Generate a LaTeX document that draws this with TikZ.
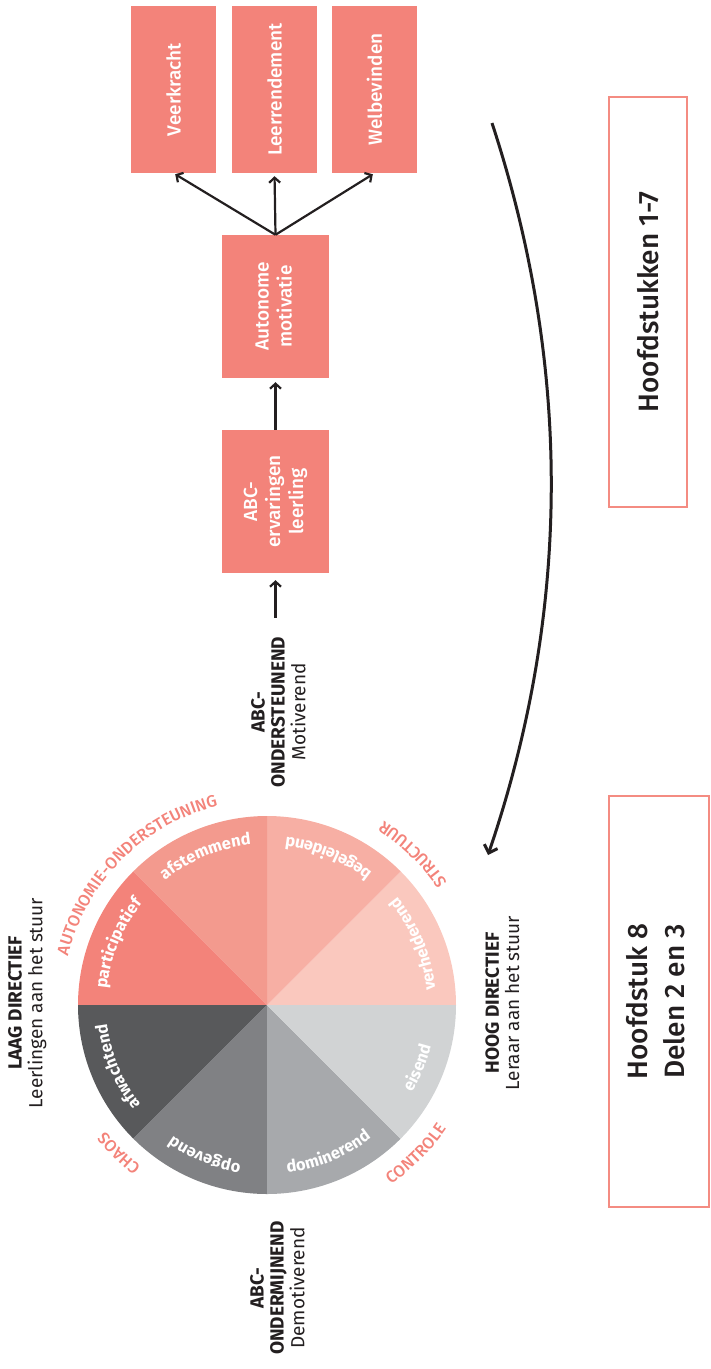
\documentclass[tikz,border=0pt]{standalone}
\usepackage{fontspec}
\setmainfont{Fira Sans}
\IfFontExistsTF{Fira Sans Medium}{\newfontfamily\medfont{Fira Sans Medium}}{\newfontfamily\medfont{Fira Sans}[FakeBold=1]}
\usetikzlibrary{arrows.meta,decorations.text,calc}
\definecolor{salmon}{HTML}{F3837A}
\definecolor{salmonline}{HTML}{F48C82}
\definecolor{cafst}{HTML}{F39A8E}
\definecolor{cbeg}{HTML}{F7AFA4}
\definecolor{cverh}{HTML}{FAC8BE}
\definecolor{cafw}{HTML}{58595B}
\definecolor{copg}{HTML}{808184}
\definecolor{cdom}{HTML}{A7A9AC}
\definecolor{ceis}{HTML}{D1D3D4}
\definecolor{ink}{HTML}{231F20}
\newcommand\secfont{\color{white}\bfseries\fontsize{16.5}{16.5}\selectfont}
\newcommand\outfont{\color{salmon}\medfont\fontsize{16.5}{16.5}\selectfont}
\begin{document}
\begin{tikzpicture}[x=1pt,y=1pt,
  box/.style={fill=salmon, text=white, inner sep=0pt, font=\medfont\fontsize{19}{23}\selectfont},
  arr/.style={draw=ink, line width=2.2pt, -{Straight Barb[length=5pt,width=11pt]}},
  lbl/.style={text=ink, inner sep=0pt, font=\fontsize{19}{20}\selectfont},
  chap/.style={draw=salmonline, line width=1.4pt, inner sep=0pt, text=ink, font=\medfont\fontsize{28}{37}\selectfont},
  cwtext/.style={decorate, decoration={text along path, text align=center, text={|\secfont|#1}}},
  outtext/.style={decorate, decoration={text along path, text align=center, text={|\outfont|#1}}}
]
\path[use as bounding box] (0,0) rectangle (710,-1369);

% ---- pie ----
\coordinate (c) at (267,-1005);
\def\R{189}
\fill[cverh] (c) -- ++(0:\R) arc[start angle=0,end angle=45,radius=\R] -- cycle;
\fill[cbeg]  (c) -- ++(45:\R) arc[start angle=45,end angle=90,radius=\R] -- cycle;
\fill[cafst] (c) -- ++(90:\R) arc[start angle=90,end angle=135,radius=\R] -- cycle;
\fill[salmon] (c) -- ++(135:\R) arc[start angle=135,end angle=180,radius=\R] -- cycle;
\fill[cafw]  (c) -- ++(180:\R) arc[start angle=180,end angle=225,radius=\R] -- cycle;
\fill[copg]  (c) -- ++(225:\R) arc[start angle=225,end angle=270,radius=\R] -- cycle;
\fill[cdom]  (c) -- ++(270:\R) arc[start angle=270,end angle=315,radius=\R] -- cycle;
\fill[ceis]  (c) -- ++(315:\R) arc[start angle=315,end angle=360,radius=\R] -- cycle;

% sector labels: left half clockwise (tops outward), right half counter-clockwise (tops inward)
\path[cwtext={afstemmend}] ($(c)+(152.5:161)$) arc[start angle=152.5,end angle=72.5,radius=161];
\path[cwtext={participatief}] ($(c)+(197.5:161)$) arc[start angle=197.5,end angle=117.5,radius=161];
\path[cwtext={afwachtend}] ($(c)+(242.5:161)$) arc[start angle=242.5,end angle=162.5,radius=161];
\path[cwtext={opgevend}] ($(c)+(287.5:161)$) arc[start angle=287.5,end angle=207.5,radius=161];
\path[cwtext={begeleidend}] ($(c)+(27.5:169)$) arc[start angle=27.5,end angle=107.5,radius=169];
\path[cwtext={verhelderend}] ($(c)+(-17.5:169)$) arc[start angle=-17.5,end angle=62.5,radius=169];
\path[cwtext={eisend}] ($(c)+(-62.5:169)$) arc[start angle=-62.5,end angle=17.5,radius=169];
\path[cwtext={dominerend}] ($(c)+(-107.5:169)$) arc[start angle=-107.5,end angle=-27.5,radius=169];

% outer labels
\path[outtext={AUTONOMIE-ONDERSTEUNING}] ($(c)+(185:205)$) arc[start angle=185,end angle=85,radius=205];
\path[outtext={CHAOS}] ($(c)+(255:205)$) arc[start angle=255,end angle=195,radius=205];
\path[outtext={STRUCTUUR}] ($(c)+(15:218)$) arc[start angle=15,end angle=77,radius=218];
\path[outtext={CONTROLE}] ($(c)+(-75:218)$) arc[start angle=-75,end angle=-15,radius=218];

% ---- side labels ----
\node[lbl] (laag) at (28,-1003) {\rotatebox{90}{\begin{tabular}{@{}c@{}}\bfseries LAAG DIRECTIEF\\Leerlingen aan het stuur\end{tabular}}};
\node[lbl] (hoog) at (505,-1003) {\rotatebox{90}{\begin{tabular}{@{}c@{}}\bfseries HOOG DIRECTIEF\\Leraar aan het stuur\end{tabular}}};
\node[lbl] (onder) at (281,-712) {\rotatebox{90}{\begin{tabular}{@{}c@{}}\bfseries ABC-\\\bfseries ONDERSTEUNEND\\Motiverend\end{tabular}}};
\node[lbl] (ondermij) at (280,-1288) {\rotatebox{90}{\begin{tabular}{@{}c@{}}\bfseries ABC-\\\bfseries ONDERMIJNEND\\Demotiverend\end{tabular}}};

% ---- flow boxes ----
\node[box, minimum width=85pt, minimum height=167pt] (veer) at (173.5,-89.5) {\rotatebox{90}{Veerkracht}};
\node[box, minimum width=85pt, minimum height=167pt] (leer) at (274.5,-89.5) {\rotatebox{90}{Leerrendement}};
\node[box, minimum width=85pt, minimum height=167pt] (welb) at (374.5,-89.5) {\rotatebox{90}{Welbevinden}};
\node[box, minimum width=107pt, minimum height=143pt] (auto) at (275.5,-306.5) {\rotatebox{90}{\begin{tabular}{@{}c@{}}Autonome\\motivatie\end{tabular}}};
\node[box, minimum width=107pt, minimum height=143pt] (abc) at (275.5,-501.5) {\rotatebox{90}{\begin{tabular}{@{}c@{}}ABC-\\ervaringen\\leerling\end{tabular}}};

% ---- chapter boxes ----
\node[chap, minimum width=78pt, minimum height=410pt] (h17) at (648,-302) {\rotatebox{90}{Hoofdstukken 1-7}};
\node[chap, minimum width=100pt, minimum height=411pt] (h8) at (659,-1001.5) {\rotatebox{90}{\begin{tabular}{@{}c@{}}Hoofdstuk 8\\Delen 2 en 3\end{tabular}}};

% ---- connectors ----
\draw[arr, shorten <=19pt, shorten >=7pt] (onder.north -| abc.south) -- (abc.south);
\draw[arr, shorten >=4pt] (abc.north) -- (auto.south);
\draw[arr, shorten >=2pt] (auto.north) -- (veer.south);
\draw[arr, shorten >=3pt] (auto.north) -- (leer.south);
\draw[arr, shorten >=2pt] (auto.north) -- (welb.south);

\coordinate (cs) at (492,-123);
\coordinate (ce) at (488,-855);
\draw[ink, line width=3pt, -{Straight Barb[length=7pt,width=14pt]}] (cs) .. controls (572,-367) and (571,-611) .. (ce);
\end{tikzpicture}
\end{document}
